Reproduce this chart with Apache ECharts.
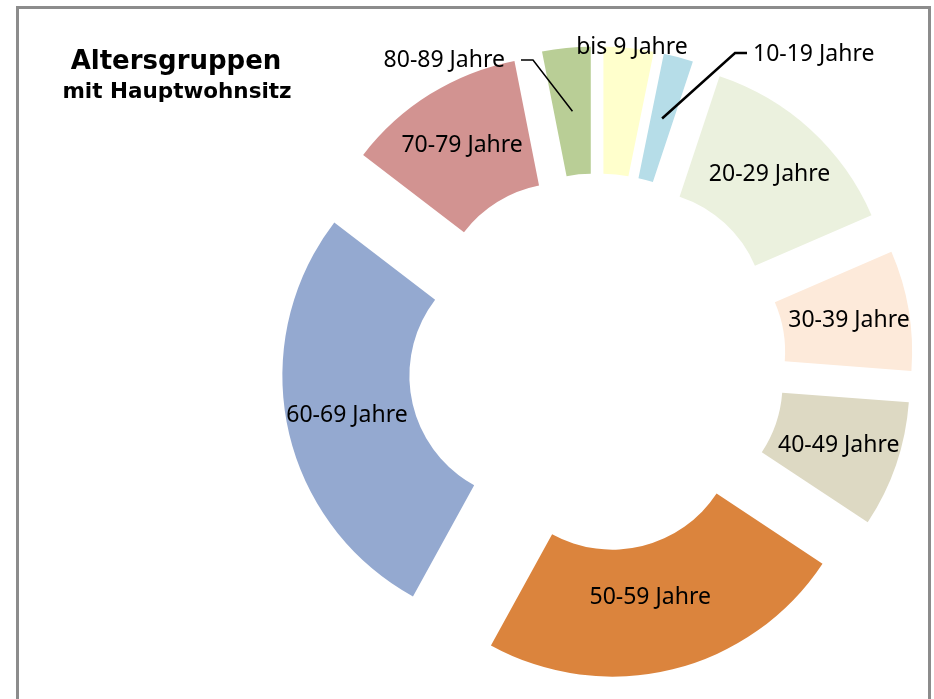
<!DOCTYPE html>
<html><head><meta charset="utf-8">
<script src="https://cdn.jsdelivr.net/npm/echarts@6/dist/echarts.min.js"></script>
<style>html,body{margin:0;padding:0;background:#fff}#c{width:934px;height:699px}</style>
</head><body><div id="c"></div>
<script>
// ---- data ----
const categories = ['bis 9 Jahre','10-19 Jahre','20-29 Jahre','30-39 Jahre','40-49 Jahre','50-59 Jahre','60-69 Jahre','70-79 Jahre','80-89 Jahre'];
const shares = [3.2, 1.9, 13.4, 7.7, 8.1, 23.7, 27.4, 11.5, 3.1];
const colors = ['#FFFFCC','#B6DDE8','#EBF1DE','#FDEADA','#DDD9C3','#DB843D','#94A9D0','#D29391','#B9CE96'];
const titleText = 'Altersgruppen';
const subtitleText = 'mit Hauptwohnsitz';

// ---- layout ----
const CX = 597, CY = 362.5, R0 = 125, R1 = 252, OFFSET = 64;
const outsideLabels = {
  0: {x: 632, y: 47, align: 'center'},
  1: {x: 753, y: 54, align: 'left', bend: [735, 53], end: [747, 53], width: 2.5},
  8: {x: 505, y: 60, align: 'right', bend: [533, 60], end: [521, 60], width: 1.5}
};
const labelNudge = {5: [-8, -13]};

const total = shares.reduce((a, b) => a + b, 0);
let acc = 0;
const mids = shares.map(v => { const m = (acc + v / 2) / total * 360; acc += v; return m; });

const labelFont = {fontFamily: 'Noto Sans', fontSize: 23, color: '#000'};

// main (exploded) ring
const ringData = categories.map((name, i) => ({
  name, value: shares[i], selected: true,
  itemStyle: {color: colors[i]},
  select: {itemStyle: {color: colors[i], borderWidth: 0}},
  label: {show: !outsideLabels[i]}
}));

// invisible twin ring carrying the outside labels with leader lines
const labelData = categories.map((name, i) => {
  const o = outsideLabels[i];
  return {
    name, value: shares[i],
    itemStyle: {color: 'rgba(0,0,0,0)'},
    label: {show: !!o},
    labelLine: {show: !!(o && o.bend), lineStyle: {color: '#000', width: (o && o.width) || 1}}
  };
});

const chart = echarts.init(document.getElementById('c'), null, {renderer: 'canvas'});
chart.setOption({
  animation: false,
  backgroundColor: '#fff',
  graphic: [
    {type: 'rect', shape: {x: 17.5, y: 7.5, width: 912, height: 740}, style: {fill: 'none', stroke: '#8C8C8C', lineWidth: 3}, z: 0},
    {type: 'text', x: 176, y: 62, style: {text: titleText, fontFamily: 'DejaVu Sans', fontWeight: 'bold', fontSize: 26, fill: '#000', align: 'center', verticalAlign: 'middle'}},
    {type: 'text', x: 177, y: 92, style: {text: subtitleText, fontFamily: 'DejaVu Sans', fontWeight: 'bold', fontSize: 21.5, fill: '#000', align: 'center', verticalAlign: 'middle'}}
  ],
  series: [{
    type: 'pie',
    z: 2,
    center: [CX, CY],
    radius: [R0, R1],
    startAngle: 90,
    clockwise: true,
    selectedMode: 'multiple',
    selectedOffset: OFFSET,
    avoidLabelOverlap: false,
    emphasis: {disabled: true},
    label: Object.assign({show: true, position: 'inside', formatter: '{b}'}, labelFont),
    labelLine: {show: false},
    labelLayout: function (p) {
      const n = labelNudge[p.dataIndex];
      return n ? {dx: n[0], dy: n[1]} : {};
    },
    data: ringData
  }, {
    type: 'pie',
    z: 5,
    center: [CX, CY],
    radius: [R0, R1],
    startAngle: 90,
    clockwise: true,
    silent: true,
    avoidLabelOverlap: false,
    emphasis: {disabled: true},
    label: Object.assign({show: true, position: 'outside', formatter: '{b}'}, labelFont),
    labelLayout: function (p) {
      const o = outsideLabels[p.dataIndex];
      if (!o) return {};
      const res = {x: o.x, y: o.y, align: o.align, verticalAlign: 'middle'};
      if (o.bend) {
        const t = mids[p.dataIndex] * Math.PI / 180;
        const r = OFFSET + (R0 + R1) / 2;
        res.labelLinePoints = [[CX + r * Math.sin(t), CY - r * Math.cos(t)], o.bend, o.end];
      }
      return res;
    },
    data: labelData
  }]
});
</script></body></html>
